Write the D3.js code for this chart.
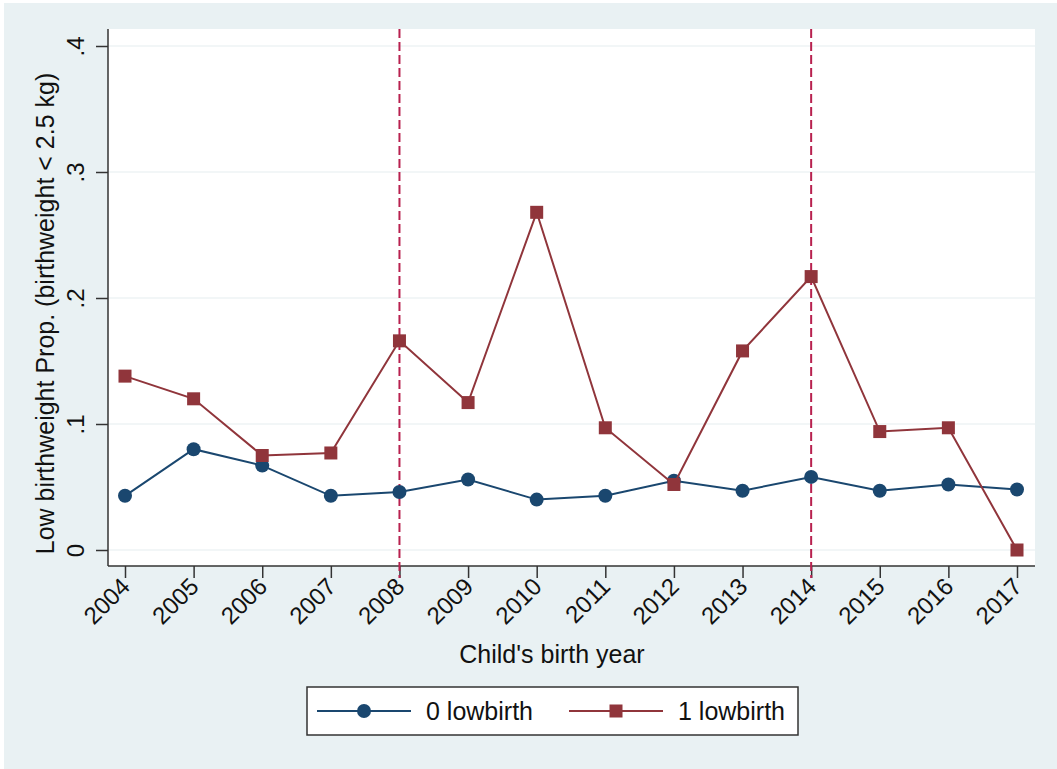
<!DOCTYPE html>
<html>
<head>
<meta charset="utf-8">
<script src="https://cdn.jsdelivr.net/npm/d3@7"></script>
<style>
  html, body { margin: 0; padding: 0; background: #ffffff; }
  svg { display: block; }
  text { font-family: "Liberation Sans", Arial, Helvetica, sans-serif; fill: #111; }
</style>
</head>
<body>
<svg id="chart" width="1057" height="769"></svg>
<script>
// Birth years on the x axis
const years = [2004, 2005, 2006, 2007, 2008, 2009, 2010, 2011, 2012, 2013, 2014, 2015, 2016, 2017];

// Share of low-birthweight children, by mother's own low-birthweight status
const lowbirth0 = [0.043, 0.080, 0.067, 0.043, 0.046, 0.056, 0.040, 0.043, 0.055, 0.047, 0.058, 0.047, 0.052, 0.048];
const lowbirth1 = [0.138, 0.120, 0.075, 0.077, 0.166, 0.117, 0.268, 0.097, 0.052, 0.158, 0.217, 0.094, 0.097, 0.000];

// Axis ticks and reference years
const yTicks = [0, 0.1, 0.2, 0.3, 0.4];
const yTickLabels = ["0", ".1", ".2", ".3", ".4"];
const refYears = [2008, 2014];

const seriesNames = ["0 lowbirth", "1 lowbirth"];

const svg = d3.select("#chart");
const W = 1057, H = 769;

const plot = { left: 108, right: 1035, top: 29, bottom: 566 };

const x = d3.scaleLinear().domain([2004, 2017]).range([125, 1017]);
const y = d3.scaleLinear().domain([0, 0.4]).range([550, 46]);

const blue = "#1a476f";
const red = "#90353b";
const refColor = "#b8214f";
const bg = "#e9f1f3";

// Outer graph region
svg.append("rect").attr("x", 4).attr("y", 3).attr("width", W - 4).attr("height", H - 3).attr("fill", bg);

// Plot region
svg.append("rect")
  .attr("x", plot.left).attr("y", plot.top)
  .attr("width", plot.right - plot.left).attr("height", plot.bottom - plot.top)
  .attr("fill", "#ffffff");

// Horizontal gridlines
svg.append("g").selectAll("line").data(yTicks).join("line")
  .attr("x1", plot.left).attr("x2", plot.right)
  .attr("y1", d => y(d)).attr("y2", d => y(d))
  .attr("stroke", "#e6eef0").attr("stroke-width", 1.2);

// Y axis
const yAxis = d3.axisLeft(y).tickValues(yTicks).tickSize(12).tickFormat((d, i) => yTickLabels[i]);
const gy = svg.append("g").attr("transform", `translate(${plot.left},0)`).call(yAxis);
gy.select(".domain").attr("d", `M0,${plot.top}V${plot.bottom}`).attr("stroke", "#333").attr("stroke-width", 1.5);
gy.selectAll(".tick line").attr("stroke", "#333").attr("stroke-width", 1.5);
gy.selectAll(".tick text")
  .attr("x", null).attr("dy", null)
  .attr("transform", "translate(-24,0) rotate(-90)")
  .attr("text-anchor", "middle")
  .style("font-size", "24px")
  .style("font-family", "'Liberation Sans', Arial, sans-serif")
  .attr("fill", "#111");

// X axis
const xAxis = d3.axisBottom(x).tickValues(years).tickSize(12).tickFormat(d3.format("d"));
const gx = svg.append("g").attr("transform", `translate(0,${plot.bottom})`).call(xAxis);
gx.select(".domain").attr("d", `M${plot.left},0H${plot.right}`).attr("stroke", "#333").attr("stroke-width", 1.5);
gx.selectAll(".tick line").attr("stroke", "#333").attr("stroke-width", 1.5);
gx.selectAll(".tick text")
  .attr("y", null).attr("dy", null)
  .attr("transform", "translate(6,22) rotate(-45)")
  .attr("text-anchor", "end")
  .style("font-size", "24px")
  .style("font-family", "'Liberation Sans', Arial, sans-serif")
  .attr("fill", "#111");

// Reference lines
svg.append("g").selectAll("line").data(refYears).join("line")
  .attr("x1", d => x(d)).attr("x2", d => x(d))
  .attr("y1", plot.top).attr("y2", plot.bottom + 12)
  .attr("stroke", refColor).attr("stroke-width", 2)
  .attr("stroke-dasharray", "9,4");

// Axis titles
svg.append("text")
  .attr("transform", `translate(54,${(plot.top + plot.bottom) / 2 + 16}) rotate(-90)`)
  .attr("text-anchor", "middle")
  .style("font-size", "25px")
  .text("Low birthweight Prop. (birthweight < 2.5 kg)");

svg.append("text")
  .attr("x", 552).attr("y", 663)
  .attr("text-anchor", "middle")
  .style("font-size", "25px")
  .text("Child's birth year");

// Series
const line = d3.line().x((d, i) => x(years[i])).y(d => y(d));

svg.append("path").datum(lowbirth0)
  .attr("d", line).attr("fill", "none")
  .attr("stroke", blue).attr("stroke-width", 2);
svg.append("g").selectAll("circle").data(lowbirth0).join("circle")
  .attr("cx", (d, i) => x(years[i])).attr("cy", d => y(d))
  .attr("r", 7).attr("fill", blue);

svg.append("path").datum(lowbirth1)
  .attr("d", line).attr("fill", "none")
  .attr("stroke", red).attr("stroke-width", 2);
const sq = 13;
svg.append("g").selectAll("rect").data(lowbirth1).join("rect")
  .attr("x", (d, i) => x(years[i]) - sq / 2).attr("y", d => y(d) - sq / 2)
  .attr("width", sq).attr("height", sq).attr("fill", red);

// Legend
const lg = svg.append("g");
lg.append("rect")
  .attr("x", 307).attr("y", 687).attr("width", 491).attr("height", 48)
  .attr("fill", "#ffffff").attr("stroke", "#333").attr("stroke-width", 1.5);

const legendItems = [
  { name: seriesNames[0], color: blue, shape: "circle", x0: 317 },
  { name: seriesNames[1], color: red, shape: "square", x0: 569 }
];
const ly = 711;
legendItems.forEach(it => {
  lg.append("line").attr("x1", it.x0).attr("x2", it.x0 + 94)
    .attr("y1", ly).attr("y2", ly).attr("stroke", it.color).attr("stroke-width", 2);
  if (it.shape === "circle") {
    lg.append("circle").attr("cx", it.x0 + 47).attr("cy", ly).attr("r", 7).attr("fill", it.color);
  } else {
    lg.append("rect").attr("x", it.x0 + 47 - sq / 2).attr("y", ly - sq / 2)
      .attr("width", sq).attr("height", sq).attr("fill", it.color);
  }
  lg.append("text").attr("x", it.x0 + 109).attr("y", ly + 9)
    .style("font-size", "25px").text(it.name);
});
</script>
</body>
</html>
